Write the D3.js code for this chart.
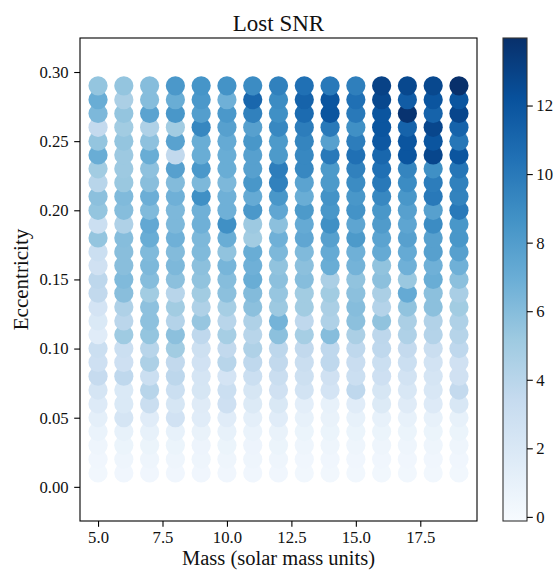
<!DOCTYPE html>
<html><head><meta charset="utf-8">
<script src="https://cdn.jsdelivr.net/npm/d3@7"></script>
<style>body{margin:0;background:#fff}svg{display:block}</style>
</head><body><svg id="c" width="553" height="570"></svg>
<script>
// ---- data ----
const masses = [5, 6, 7, 8, 9, 10, 11, 12, 13, 14, 15, 16, 17, 18, 19];
// eccentricity rows, top (0.29) to bottom (0.01)
const eccentricities = [0.29, 0.28, 0.27, 0.26, 0.25, 0.24, 0.23, 0.22, 0.21, 0.20,
  0.19, 0.18, 0.17, 0.16, 0.15, 0.14, 0.13, 0.12, 0.11, 0.10,
  0.09, 0.08, 0.07, 0.06, 0.05, 0.04, 0.03, 0.02, 0.01];
// lost SNR per mass column, ordered like `eccentricities`
const snr_m5  = [5.5, 7, 6.3, 3.5, 5.5, 7, 5, 4, 5.8, 5.5, 3, 5.5, 3, 2.7, 3.8, 3.6, 2.4, 1.9, 1.5, 3, 2.8, 3.4, 2.3, 1.7, 1.2, 0.8, 0.5, 0.4, 0.3];
const snr_m6  = [5.5, 4.6, 5.5, 5, 5.5, 5.2, 5.2, 5.3, 6.2, 6, 4.4, 6, 5.9, 5.9, 6.2, 5.9, 4.4, 3.9, 5.1, 3, 2.8, 3.7, 1.9, 1.9, 2.3, 1, 0.7, 0.5, 0.4];
const snr_m7  = [6, 6, 7.6, 4.4, 5.7, 7, 5.7, 5.9, 6.9, 6.2, 7.3, 7, 6.2, 6.3, 6, 5, 5.7, 5.7, 5.5, 4, 4.5, 3, 4, 3.1, 1.5, 1, 0.7, 0.5, 0.4];
const snr_m8  = [8.3, 7, 8.4, 5, 7.7, 3.6, 7.8, 6.1, 6.8, 6.3, 6.3, 6.8, 6.1, 6.3, 5.8, 4, 5, 4.2, 5.8, 5, 3.6, 3.8, 3, 2.2, 2.6, 1, 0.7, 0.5, 0.4];
const snr_m9  = [8.5, 8.3, 7.9, 9.3, 7, 7, 8.3, 6.3, 8.8, 6.8, 6.8, 6.3, 6.2, 5.8, 5.6, 5, 4.4, 5.4, 3.7, 2.9, 2.6, 2.3, 2.2, 1.6, 1.5, 0.9, 0.6, 0.5, 0.4];
const snr_m10 = [8.6, 6.8, 8.3, 7.8, 7.2, 7, 7, 6.3, 6.8, 6.8, 8.8, 7, 5.6, 6.5, 6, 5.8, 4.8, 4, 4.8, 3.6, 4, 2.4, 3, 2.8, 1.5, 1, 0.7, 0.5, 0.4];
const snr_m11 = [9, 11, 9.6, 7.8, 8.4, 7.8, 7.8, 8.4, 7.2, 8.3, 5.2, 5, 7, 6.8, 7, 6.1, 5.8, 4.4, 4, 4.4, 3.7, 3, 2.2, 1.8, 1.2, 0.8, 0.6, 0.5, 0.4];
const snr_m12 = [9.6, 9, 8.8, 9.2, 8.2, 8.2, 9.8, 9.6, 8.4, 7.4, 5.8, 6.8, 6.3, 5.6, 5.8, 5.4, 5.2, 6.6, 5.8, 3.8, 3.6, 3.1, 2.7, 2, 1.5, 0.9, 0.7, 0.5, 0.4];
const snr_m13 = [10.5, 11.2, 10.8, 9.8, 9.4, 9.2, 9.2, 7.6, 7, 8.2, 7.2, 7.4, 6.2, 5.8, 6, 5, 5, 3.7, 4.8, 3.6, 3.1, 2.9, 2.5, 1.3, 1, 0.7, 0.5, 0.4, 0.3];
const snr_m14 = [10, 12, 12, 10, 7.8, 10, 8.2, 8.2, 8.6, 8.4, 8.8, 7.8, 7.2, 7, 4.6, 5, 4.6, 4.4, 6, 3.7, 3.7, 2.7, 2.4, 1, 0.9, 0.7, 0.5, 0.4, 0.3];
const snr_m15 = [9.7, 10.5, 10, 8.8, 9.8, 10.5, 9.6, 9, 8.4, 8.6, 7.5, 8.2, 6.8, 6.6, 5.6, 5.8, 6, 5.8, 4.6, 3.7, 3.2, 3, 3.7, 1.5, 1, 0.7, 0.5, 0.4, 0.3];
const snr_m16 = [13, 12.7, 12, 12, 11.8, 11, 10.5, 10, 9.2, 8.4, 8.1, 7.6, 7.2, 5.6, 5.8, 4.6, 4.2, 5.6, 3.8, 3.7, 3, 2.8, 2.2, 1.8, 1, 0.7, 0.5, 0.4, 0.3];
const snr_m17 = [12.7, 11.6, 13.8, 11.2, 12, 12, 9.4, 9, 8.4, 7.8, 7.5, 7.8, 7.2, 6.8, 5.3, 7.2, 5.6, 4.6, 4.4, 3.5, 3, 2.5, 2.1, 1.6, 1, 0.7, 0.5, 0.4, 0.3];
const snr_m18 = [12.7, 12, 11.2, 12.8, 12, 12.8, 8.8, 9.8, 10, 7.8, 9, 7.8, 7.8, 6.8, 7, 5.8, 5.8, 4.3, 4.2, 3.1, 2.5, 2.3, 2.1, 1.7, 1, 0.7, 0.5, 0.4, 0.3];
const snr_m19 = [13.97, 12, 12.8, 11.2, 10.2, 12, 10.2, 9.6, 9.5, 10, 8.4, 8.4, 7.8, 6.8, 5.8, 4.7, 5, 4.4, 4.1, 3.7, 2.7, 2.7, 3.5, 2.1, 1, 0.7, 0.5, 0.4, 0.3];
const snrColumns = [snr_m5, snr_m6, snr_m7, snr_m8, snr_m9, snr_m10, snr_m11, snr_m12,
  snr_m13, snr_m14, snr_m15, snr_m16, snr_m17, snr_m18, snr_m19];

const xTicks = [5.0, 7.5, 10.0, 12.5, 15.0, 17.5];
const yTicks = [0.00, 0.05, 0.10, 0.15, 0.20, 0.25, 0.30];
const cbTicks = [0, 2, 4, 6, 8, 10, 12];
const colorLimits = [-0.12, 13.97];
// matplotlib "Blues" anchor colours
const bluesStops = ["#f7fbff", "#deebf7", "#c6dbef", "#9ecae1", "#6baed6", "#4292c6", "#2171b5", "#08519c", "#08306b"];

// ---- layout ----
const FONT = "'Liberation Serif', 'Times New Roman', serif";
const plot = {l: 80, r: 477, t: 38, b: 521};
const cb = {l: 503, r: 527, t: 38, b: 521};
const svg = d3.select("#c");

const x = d3.scaleLinear().domain([4.3, 19.7]).range([plot.l, plot.r]);
const y = d3.scaleLinear().domain([-0.0247, 0.3246]).range([plot.b, plot.t]);
const cmapPos = d3.scaleLinear().domain(d3.range(bluesStops.length).map(i => i / (bluesStops.length - 1))).range(bluesStops).interpolate(d3.interpolateRgb).clamp(true);
const norm = d3.scaleLinear().domain(colorLimits).range([0, 1]);
const color = v => cmapPos(norm(v));

const points = [];
masses.forEach((m, j) => eccentricities.forEach((e, i) => points.push({m, e, v: snrColumns[j][i]})));
points.sort((a, b) => a.e - b.e || a.m - b.m);

svg.append("g").selectAll("circle").data(points).join("circle")
  .attr("cx", d => x(d.m)).attr("cy", d => y(d.e)).attr("r", 9.6)
  .attr("fill", d => color(d.v));

// frame
svg.append("rect").attr("x", plot.l).attr("y", plot.t)
  .attr("width", plot.r - plot.l).attr("height", plot.b - plot.t)
  .attr("fill", "none").attr("stroke", "#000").attr("stroke-width", 1.1);

function styleAxis(g) {
  g.select(".domain").remove();
  g.selectAll(".tick line").attr("stroke", "#000").attr("stroke-width", 1.1);
  g.selectAll(".tick text").attr("font-family", FONT).attr("font-size", 16.7).attr("fill", "#111");
}
svg.append("g").attr("transform", `translate(0,${plot.b})`)
  .call(d3.axisBottom(x).tickValues(xTicks).tickFormat(d3.format(".1f")).tickSize(5.8).tickPadding(4.5))
  .call(styleAxis);
svg.append("g").attr("transform", `translate(${plot.l},0)`)
  .call(d3.axisLeft(y).tickValues(yTicks).tickFormat(d3.format(".2f")).tickSize(5.8).tickPadding(5.5))
  .call(styleAxis);

// colorbar
const defs = svg.append("defs");
const grad = defs.append("linearGradient").attr("id", "cbg").attr("x1", 0).attr("y1", 1).attr("x2", 0).attr("y2", 0);
bluesStops.forEach((c, i) => grad.append("stop").attr("offset", i / (bluesStops.length - 1)).attr("stop-color", c));
svg.append("rect").attr("x", cb.l).attr("y", cb.t).attr("width", cb.r - cb.l).attr("height", cb.b - cb.t)
  .attr("fill", "url(#cbg)").attr("stroke", "#333").attr("stroke-width", 1.1);
const cy = d3.scaleLinear().domain(colorLimits).range([cb.b, cb.t]);
svg.append("g").attr("transform", `translate(${cb.r},0)`)
  .call(d3.axisRight(cy).tickValues(cbTicks).tickFormat(d3.format("d")).tickSize(5.8).tickPadding(3.5))
  .call(styleAxis);

// texts
svg.append("text").attr("x", (plot.l + plot.r) / 2).attr("y", 31).attr("text-anchor", "middle")
  .attr("font-family", FONT).attr("font-size", 23).attr("fill", "#111").text("Lost SNR");
svg.append("text").attr("x", (plot.l + plot.r) / 2).attr("y", 564.5).attr("text-anchor", "middle")
  .attr("font-family", FONT).attr("font-size", 20.5).attr("fill", "#111").text("Mass (solar mass units)");
svg.append("text").attr("transform", `translate(28,${(plot.t + plot.b) / 2}) rotate(-90)`).attr("text-anchor", "middle")
  .attr("font-family", FONT).attr("font-size", 21).attr("fill", "#111").text("Eccentricity");
</script></body></html>
